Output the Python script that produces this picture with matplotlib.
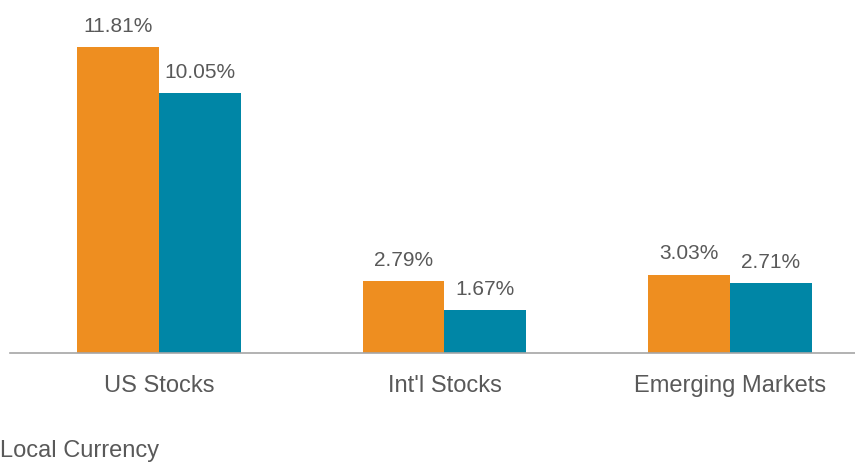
import matplotlib
matplotlib.use("Agg")
import matplotlib.pyplot as plt
import numpy as np

categories = ["US Stocks", "Int'l Stocks", "Emerging Markets"]
series_a = [11.81, 2.79, 3.03]
series_b = [10.05, 1.67, 2.71]
legend_label = "Local Currency"

plt.rcParams['font.family'] = ['Liberation Sans', 'DejaVu Sans']
W, H = 855, 463
fig = plt.figure(figsize=(W/100, H/100), dpi=100)
ax = fig.add_axes([10/W, 1 - 353/H, 1 - 10/W, 353/H])

x = np.arange(len(categories))
bw = 0.286
orange = "#EE8E20"
teal = "#0086A6"
txt = "#595959"
b1 = ax.bar(x - bw/2, series_a, bw, color=orange)
b2 = ax.bar(x + bw/2, series_b, bw, color=teal)
for bars, vals in ((b1, series_a), (b2, series_b)):
    for r, v in zip(bars, vals):
        ax.annotate(f"{v:.2f}%", (r.get_x() + r.get_width()/2, v), xytext=(0, 8),
                    textcoords="offset points", ha="center", va="bottom",
                    fontsize=15, color=txt)

ax.set_xlim(-0.522, 2.438)
ax.set_ylim(0, 13.63)
for s in ("top", "right", "left"):
    ax.spines[s].set_visible(False)
ax.spines["bottom"].set_color("#A6A6A6")
ax.spines["bottom"].set_linewidth(1.2)
ax.set_yticks([])
ax.set_xticks(x)
ax.set_xticklabels(categories, fontsize=17, color=txt)
ax.tick_params(axis="x", length=0, pad=15.5)

fig.text(0, 1 - 451/H, legend_label, fontsize=17, color=txt, ha="left", va="center")
fig.savefig("out.png", dpi=100)
